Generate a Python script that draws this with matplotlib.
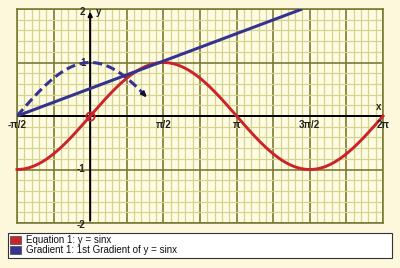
import numpy as np
import matplotlib.pyplot as plt
from matplotlib.patches import Rectangle
from matplotlib.ticker import MultipleLocator

pi = np.pi

# 曲線データ (グラフに書かれている式 y = sinx とその導関数)
curve_x = np.linspace(-pi / 2, 2 * pi, 400)
sin_y = np.sin(curve_x)
deriv_x = np.linspace(-pi / 2, 1.25, 120)
deriv_y = np.cos(deriv_x)
grad_x = [-pi / 2, 4.55]
grad_y = [0.0, 2.0]

x_tick_vals = [-pi / 2, pi / 2, pi, 3 * pi / 2, 2 * pi]
x_tick_labels = ["-\u03c0/2", "\u03c0/2", "\u03c0", "3\u03c0/2", "2\u03c0"]
y_tick_vals = [2, 1, -1, -2]
y_tick_labels = ["2", "1", "-1", "-2"]
legend_labels = ["Equation 1: y = sinx", "Gradient 1: 1st Gradient of y = sinx"]

# 色
bg = "#fdf8dc"
red = "#cc2229"
navy = "#35338f"
major_c = "#7a7a33"
minor_c = "#d3d48f"

plt.rcParams["font.family"] = ["Liberation Sans", "DejaVu Sans"]

fig = plt.figure(figsize=(4, 2.68), dpi=100, facecolor=bg)
ax = fig.add_axes([17 / 400, 45 / 268, 366 / 400, 214 / 268])
ax.set_facecolor("#fffbe2")
ax.set_xlim(-pi / 2, 2 * pi)
ax.set_ylim(-2, 2)

# グリッド
ax.xaxis.set_major_locator(MultipleLocator(pi / 4))
ax.xaxis.set_minor_locator(MultipleLocator(pi / 20))
ax.yaxis.set_major_locator(MultipleLocator(1))
ax.yaxis.set_minor_locator(MultipleLocator(0.2))
ax.grid(which="minor", color=minor_c, lw=0.9)
ax.grid(which="major", color=major_c, lw=1.2)
ax.tick_params(which="both", length=0, labelbottom=False, labelleft=False)
for s in ax.spines.values():
    s.set_color(major_c)
    s.set_linewidth(1.2)
ax.set_axisbelow(True)

# 座標軸
ax.axhline(0, color="black", lw=1.4, zorder=2)
ax.annotate("", xy=(0, 2.0), xytext=(0, -2.0),
            arrowprops=dict(arrowstyle="-|>", color="black", lw=1.4, mutation_scale=6),
            zorder=2, annotation_clip=False)

# 曲線
ax.plot(curve_x, sin_y, color=red, lw=2.1, zorder=3, clip_on=False)
ax.plot(grad_x, grad_y, color=navy, lw=2.2, zorder=4, solid_capstyle="butt")
ax.plot(deriv_x[:-3], deriv_y[:-3], color=navy, lw=2.2, ls=(0, (3, 1.5)), zorder=4)
ax.annotate("", xy=(deriv_x[-1], deriv_y[-1]), xytext=(deriv_x[-6], deriv_y[-6]),
            arrowprops=dict(arrowstyle="-|>", color="#111133", lw=1.5, mutation_scale=7),
            zorder=5)
ax.plot([0], [0], "o", ms=6, mfc="none", mec=red, mew=1.3, zorder=6)

# 目盛りラベル
for v, lab in zip(x_tick_vals, x_tick_labels):
    ax.text(v, -0.16, lab, ha="center", va="center", fontsize=7,
            fontweight="bold", color="#222222", clip_on=False)
for v, lab in zip(y_tick_vals, y_tick_labels):
    yy = v
    if v == 2:
        yy = 1.95
    elif v == -2:
        yy = -2.04
    ax.text(-0.1, yy, lab, ha="right", va="center", fontsize=7,
            fontweight="bold", color="#222222", clip_on=False)
ax.text(0.12, 1.95, "y", ha="left", va="center", fontsize=7,
        fontweight="bold", color="#222222")
ax.text(6.2, 0.16, "x", ha="center", va="center", fontsize=7,
        fontweight="bold", color="#222222")

# 凡例
fig.patches.append(Rectangle((8 / 400, 10 / 268), 384 / 400, 25 / 268,
                             transform=fig.transFigure, facecolor="white",
                             edgecolor="#333333", lw=0.8))
for i, (lab, col) in enumerate(zip(legend_labels, [red, navy])):
    yc = (268 - 240 - 10 * i) / 268
    fig.patches.append(Rectangle((10 / 400, yc - 4 / 268), 11 / 400, 8 / 268,
                                 transform=fig.transFigure, facecolor=col,
                                 edgecolor="#555555", lw=0.6))
    fig.text(26 / 400, yc, lab, ha="left", va="center", fontsize=7, color="#111111")

fig.savefig("out.png", dpi=100, facecolor=bg)
